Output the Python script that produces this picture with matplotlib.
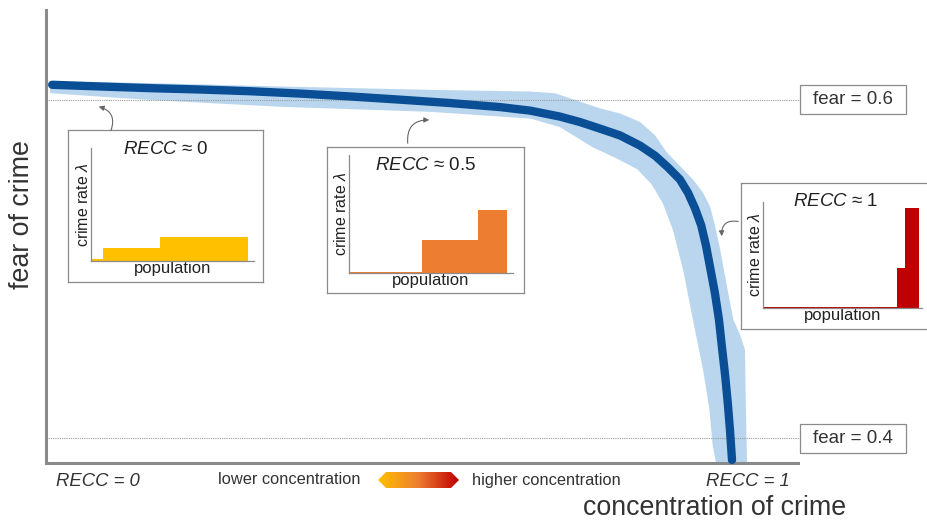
import numpy as np
import matplotlib
matplotlib.use("Agg")
import matplotlib.pyplot as plt
from matplotlib.patches import Polygon, Rectangle, FancyArrowPatch

plt.rcParams['font.family'] = ['Liberation Sans', 'DejaVu Sans']
plt.rcParams['mathtext.fontset'] = 'custom'
plt.rcParams['mathtext.rm'] = 'Liberation Sans'
plt.rcParams['mathtext.it'] = 'Liberation Sans:italic'

# --- data ---------------------------------------------------------------
# mean fear of crime vs. concentration of crime (RECC)
recc = [0.009, 0.079, 0.152, 0.225, 0.297, 0.370, 0.443, 0.516, 0.589, 0.662,
        0.706, 0.749, 0.778, 0.808, 0.837, 0.866, 0.888, 0.907, 0.924, 0.936,
        0.946, 0.955, 0.962, 0.969, 0.975, 0.981, 0.985, 0.990, 0.994, 0.997,
        1.000]
fear = [0.609, 0.608, 0.607, 0.6062, 0.6052, 0.6038, 0.6021, 0.6002, 0.5982, 0.5958,
        0.5937, 0.5902, 0.587, 0.583, 0.579, 0.573, 0.567, 0.560, 0.553, 0.545,
        0.536, 0.526, 0.514, 0.499, 0.486, 0.470, 0.455, 0.437, 0.420, 0.405,
        0.387]

# uncertainty band: upper/right edge and lower/left edge
band_hi_recc = [0.006, 0.152, 0.341, 0.560, 0.706, 0.742, 0.764, 0.786, 0.808,
                0.837, 0.866, 0.888, 0.905, 0.924, 0.943, 0.958, 0.968, 0.975,
                0.983, 0.993, 1.002, 1.012, 1.019, 1.020, 1.022]
band_hi_fear = [0.611, 0.610, 0.608, 0.606, 0.605, 0.604, 0.601, 0.598, 0.595,
                0.592, 0.587, 0.579, 0.569, 0.561, 0.553, 0.545, 0.537, 0.526,
                0.511, 0.489, 0.470, 0.461, 0.452, 0.423, 0.385]
band_lo_recc = [0.006, 0.152, 0.341, 0.560, 0.706, 0.749, 0.797, 0.829, 0.862,
                0.883, 0.899, 0.914, 0.929, 0.943, 0.958, 0.967, 0.972, 0.977]
band_lo_fear = [0.604, 0.600, 0.596, 0.593, 0.589, 0.584, 0.572, 0.566, 0.559,
                0.550, 0.539, 0.523, 0.499, 0.470, 0.440, 0.417, 0.395, 0.385]

fear_levels = [0.6, 0.4]

# inset histograms: bar left edges, widths, heights (population share / crime rate)
inset_titles = ['$RECC$ ≈ 0', '$RECC$ ≈ 0.5', '$RECC$ ≈ 1']
inset_left = [[0.0, 0.074, 0.423], [0.0, 0.445, 0.787], [0.0, 0.843, 0.893]]
inset_width = [[0.074, 0.349, 0.540], [0.445, 0.342, 0.176], [0.843, 0.050, 0.088]]
inset_height = [[0.02, 0.115, 0.21], [0.012, 0.28, 0.534], [0.012, 0.377, 0.943]]
inset_colors = ['#FFC000', '#ED7D31', '#C00000']

W, H = 927, 520
TXT = '#333333'


def fr(x0, y0, x1, y1):
    # pixel box (top-left origin) -> figure fraction rect
    return [x0 / W, 1 - y1 / H, (x1 - x0) / W, (y1 - y0) / H]


fig = plt.figure(figsize=(W / 100, H / 100), dpi=100)

# --- main axes ---------------------------------------------------------
ax = fig.add_axes(fr(46, 10, 798, 463))
ax.set_xlim(0, 752 / 686)
ax.set_ylim(0.38521, 0.65325)
for s in ['top', 'right']:
    ax.spines[s].set_visible(False)
for s in ['left', 'bottom']:
    ax.spines[s].set_color('#8a8a8a')
    ax.spines[s].set_linewidth(2.2)
ax.set_xticks([])
ax.set_yticks([])

band_x = band_hi_recc + band_lo_recc[::-1]
band_y = band_hi_fear + band_lo_fear[::-1]
ax.fill(band_x, band_y, color='#b9d6ee', lw=0, zorder=1, clip_on=False)

# px -> data scale for the label boxes
sx = 1 / 686
sy = 0.2 / 338
for lv in fear_levels:
    ax.plot([0, 754 * sx], [lv, lv], ls=(0, (1, 1)), color='#9a9a9a', lw=0.8,
            zorder=2, clip_on=False)
    ax.add_patch(Rectangle((754 * sx, lv - 14.5 * sy), 106 * sx, 29 * sy,
                           fc='white', ec='#8a8a8a', lw=0.9, clip_on=False, zorder=4))
    ax.text(807 * sx, lv, f'fear = {lv}', ha='center', va='center', fontsize=13.5,
            color=TXT, clip_on=False, zorder=5)

ax.plot(recc, fear, color='#0a4f96', lw=6, solid_capstyle='round', zorder=3,
        clip_on=False)

# --- insets ------------------------------------------------------------
frames = [(68, 130, 263, 282), (327, 147, 524, 293), (741, 183, 940, 329)]
inner = [(91, 148, 254, 261), (349, 155, 513, 273), (763, 202, 922, 308)]

for i in range(3):
    fa = fig.add_axes(fr(*frames[i]))
    fa.set_xticks([])
    fa.set_yticks([])
    fa.set_facecolor('white')
    for s in fa.spines.values():
        s.set_color('#8a8a8a')
        s.set_linewidth(0.9)
    fa.text(0.5 if i < 2 else 0.475, 1 - 19 / (frames[i][3] - frames[i][1]),
            inset_titles[i], transform=fa.transAxes, ha='center', va='center',
            fontsize=13.5, color='#222222')

    ia = fig.add_axes(fr(*inner[i]))
    ia.patch.set_alpha(0)
    ia.bar(inset_left[i], inset_height[i], width=inset_width[i], align='edge',
           color=inset_colors[i], lw=0)
    ia.set_xlim(0, 1)
    ia.set_ylim(0, 1)
    ia.set_xticks([])
    ia.set_yticks([])
    for s in ['top', 'right']:
        ia.spines[s].set_visible(False)
    for s in ['left', 'bottom']:
        ia.spines[s].set_color('#8a8a8a')
        ia.spines[s].set_linewidth(0.9)
    ia.set_xlabel('population', fontsize=12, color='#222222', labelpad=0)
    ia.set_ylabel('crime rate $\\lambda$', fontsize=11.5, color='#222222', labelpad=0)

# curly pointers from insets to the curve
pointers = [((110, 133), (96, 106), 0.6), ((408, 146), (432, 120), -0.6),
            ((741, 222), (722, 239), 0.7)]
for tail, head, rad in pointers:
    fig.add_artist(FancyArrowPatch(
        (tail[0], H - tail[1]), (head[0], H - head[1]),
        transform=None, arrowstyle='-|>,head_length=3,head_width=1.5',
        connectionstyle=f'arc3,rad={rad}', color='#666666', lw=0.8))


# --- bottom annotations -----------------------------------------------
def ftext(x, y, s, **kw):
    fig.text(x / W, 1 - y / H, s, va='center', color=TXT, **kw)


ftext(98, 481, 'RECC = 0', ha='center', fontsize=13.3, style='italic')
ftext(748, 481, 'RECC = 1', ha='center', fontsize=13.3, style='italic')
ftext(361, 480, 'lower concentration', ha='right', fontsize=11.8)
ftext(472, 480, 'higher concentration', ha='left', fontsize=11.8)
ftext(715, 508, 'concentration of crime', ha='center', fontsize=19.3)
fig.text(22 / W, 1 - 215 / H, 'fear of crime', rotation=90, ha='center',
         va='center', fontsize=19.3, color=TXT)

# gradient double arrow
ga = fig.add_axes(fr(378, 472, 459, 488))
ga.set_xlim(0, 81)
ga.set_ylim(0, 16)
ga.axis('off')
cmap = matplotlib.colors.LinearSegmentedColormap.from_list(
    'conc', ['#FFC000', '#ED7D31', '#C00000'])
img = ga.imshow(np.linspace(0, 1, 200)[None, :], cmap=cmap, aspect='auto',
                extent=[0, 81, 0, 16])
hexa = Polygon([[0, 8], [8, 16], [73, 16], [81, 8], [73, 0], [8, 0]],
               closed=True, transform=ga.transData, fc='none', ec='none')
ga.add_patch(hexa)
img.set_clip_path(hexa)

fig.savefig('out.png', dpi=100)
